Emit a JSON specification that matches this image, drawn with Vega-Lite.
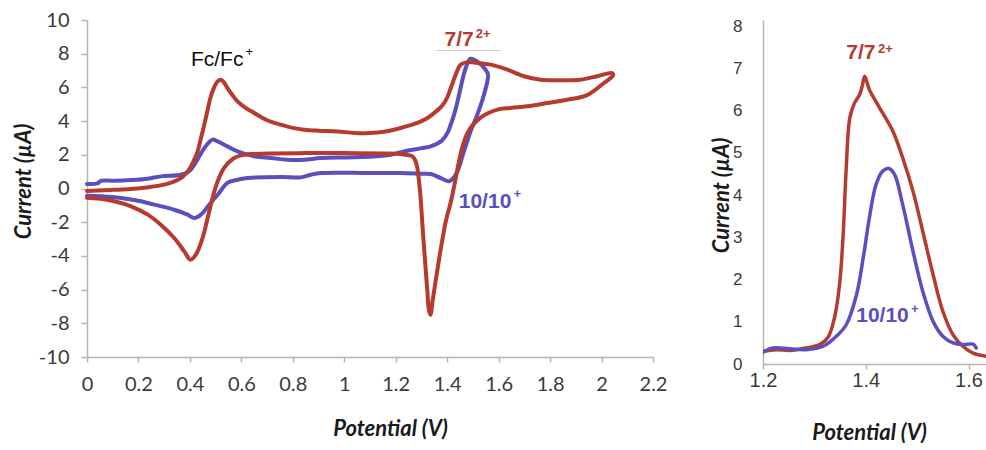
{
  "$schema": "https://vega.github.io/schema/vega-lite/v6.json",
  "padding": {"left": 12, "top": 10, "right": 0, "bottom": 0},
  "background": "white",
  "config": {
    "view": {"stroke": null},
    "axis": {
      "grid": false,
      "labelFlush": false,
      "domainColor": "#b4b4b4",
      "domainWidth": 1.5,
      "tickColor": "#b4b4b4",
      "tickWidth": 1.5,
      "labelColor": "#3a3a3a",
      "titleColor": "#1a1a1a",
      "labelFont": "Lato",
      "titleFont": "Lato",
      "titleFontStyle": "italic",
      "titleFontWeight": "bold",
      "titleFontSize": 22,
      "labelFontSize": 20
    }
  },
  "datasets": {
    "cv": [
      {"s": "7", "i": 0, "E": 0.0, "I": -0.15},
      {"s": "7", "i": 1, "E": 0.04, "I": -0.12},
      {"s": "7", "i": 2, "E": 0.10, "I": -0.08},
      {"s": "7", "i": 3, "E": 0.17, "I": -0.03},
      {"s": "7", "i": 4, "E": 0.24, "I": 0.08},
      {"s": "7", "i": 5, "E": 0.30, "I": 0.23},
      {"s": "7", "i": 6, "E": 0.34, "I": 0.42},
      {"s": "7", "i": 7, "E": 0.365, "I": 0.62},
      {"s": "7", "i": 8, "E": 0.385, "I": 0.9},
      {"s": "7", "i": 9, "E": 0.40, "I": 1.2},
      {"s": "7", "i": 10, "E": 0.415, "I": 1.65},
      {"s": "7", "i": 11, "E": 0.43, "I": 2.2},
      {"s": "7", "i": 12, "E": 0.443, "I": 3.0},
      {"s": "7", "i": 13, "E": 0.456, "I": 3.8},
      {"s": "7", "i": 14, "E": 0.468, "I": 4.6},
      {"s": "7", "i": 15, "E": 0.48, "I": 5.4},
      {"s": "7", "i": 16, "E": 0.494, "I": 6.0},
      {"s": "7", "i": 17, "E": 0.508, "I": 6.36},
      {"s": "7", "i": 18, "E": 0.52, "I": 6.46},
      {"s": "7", "i": 19, "E": 0.532, "I": 6.3},
      {"s": "7", "i": 20, "E": 0.546, "I": 5.96},
      {"s": "7", "i": 21, "E": 0.565, "I": 5.55},
      {"s": "7", "i": 22, "E": 0.585, "I": 5.17},
      {"s": "7", "i": 23, "E": 0.615, "I": 4.8},
      {"s": "7", "i": 24, "E": 0.65, "I": 4.48},
      {"s": "7", "i": 25, "E": 0.70, "I": 4.05},
      {"s": "7", "i": 26, "E": 0.753, "I": 3.79},
      {"s": "7", "i": 27, "E": 0.80, "I": 3.6},
      {"s": "7", "i": 28, "E": 0.844, "I": 3.49},
      {"s": "7", "i": 29, "E": 0.90, "I": 3.43},
      {"s": "7", "i": 30, "E": 0.973, "I": 3.39},
      {"s": "7", "i": 31, "E": 1.04, "I": 3.3},
      {"s": "7", "i": 32, "E": 1.10, "I": 3.29},
      {"s": "7", "i": 33, "E": 1.16, "I": 3.38},
      {"s": "7", "i": 34, "E": 1.219, "I": 3.59},
      {"s": "7", "i": 35, "E": 1.284, "I": 3.89},
      {"s": "7", "i": 36, "E": 1.32, "I": 4.15},
      {"s": "7", "i": 37, "E": 1.349, "I": 4.48},
      {"s": "7", "i": 38, "E": 1.37, "I": 4.75},
      {"s": "7", "i": 39, "E": 1.388, "I": 5.07},
      {"s": "7", "i": 40, "E": 1.40, "I": 5.4},
      {"s": "7", "i": 41, "E": 1.414, "I": 5.96},
      {"s": "7", "i": 42, "E": 1.433, "I": 6.75},
      {"s": "7", "i": 43, "E": 1.452, "I": 7.35},
      {"s": "7", "i": 44, "E": 1.478, "I": 7.5},
      {"s": "7", "i": 45, "E": 1.517, "I": 7.45},
      {"s": "7", "i": 46, "E": 1.569, "I": 7.35},
      {"s": "7", "i": 47, "E": 1.634, "I": 7.05},
      {"s": "7", "i": 48, "E": 1.698, "I": 6.66},
      {"s": "7", "i": 49, "E": 1.763, "I": 6.46},
      {"s": "7", "i": 50, "E": 1.841, "I": 6.42},
      {"s": "7", "i": 51, "E": 1.918, "I": 6.46},
      {"s": "7", "i": 52, "E": 1.983, "I": 6.66},
      {"s": "7", "i": 53, "E": 2.041, "I": 6.85},
      {"s": "7", "i": 54, "E": 2.045, "I": 6.72},
      {"s": "7", "i": 55, "E": 2.009, "I": 6.26},
      {"s": "7", "i": 56, "E": 1.944, "I": 5.54},
      {"s": "7", "i": 57, "E": 1.866, "I": 5.27},
      {"s": "7", "i": 58, "E": 1.789, "I": 5.07},
      {"s": "7", "i": 59, "E": 1.711, "I": 4.88},
      {"s": "7", "i": 60, "E": 1.647, "I": 4.78},
      {"s": "7", "i": 61, "E": 1.595, "I": 4.68},
      {"s": "7", "i": 62, "E": 1.556, "I": 4.45},
      {"s": "7", "i": 63, "E": 1.525, "I": 4.15},
      {"s": "7", "i": 64, "E": 1.498, "I": 3.75},
      {"s": "7", "i": 65, "E": 1.476, "I": 3.2},
      {"s": "7", "i": 66, "E": 1.458, "I": 2.4},
      {"s": "7", "i": 67, "E": 1.443, "I": 1.4},
      {"s": "7", "i": 68, "E": 1.428, "I": 0.2},
      {"s": "7", "i": 69, "E": 1.414, "I": -0.8},
      {"s": "7", "i": 70, "E": 1.394, "I": -2.0},
      {"s": "7", "i": 71, "E": 1.375, "I": -3.6},
      {"s": "7", "i": 72, "E": 1.355, "I": -5.5},
      {"s": "7", "i": 73, "E": 1.342, "I": -6.8},
      {"s": "7", "i": 74, "E": 1.336, "I": -7.49},
      {"s": "7", "i": 75, "E": 1.33, "I": -7.3},
      {"s": "7", "i": 76, "E": 1.323, "I": -6.1},
      {"s": "7", "i": 77, "E": 1.316, "I": -4.7},
      {"s": "7", "i": 78, "E": 1.31, "I": -3.5},
      {"s": "7", "i": 79, "E": 1.303, "I": -2.0},
      {"s": "7", "i": 80, "E": 1.297, "I": -0.6},
      {"s": "7", "i": 81, "E": 1.29, "I": 0.5},
      {"s": "7", "i": 82, "E": 1.284, "I": 1.22},
      {"s": "7", "i": 83, "E": 1.275, "I": 1.7},
      {"s": "7", "i": 84, "E": 1.265, "I": 1.91},
      {"s": "7", "i": 85, "E": 1.24, "I": 2.0},
      {"s": "7", "i": 86, "E": 1.219, "I": 2.05},
      {"s": "7", "i": 87, "E": 1.15, "I": 2.08},
      {"s": "7", "i": 88, "E": 1.0, "I": 2.1},
      {"s": "7", "i": 89, "E": 0.85, "I": 2.1},
      {"s": "7", "i": 90, "E": 0.72, "I": 2.08},
      {"s": "7", "i": 91, "E": 0.65, "I": 2.05},
      {"s": "7", "i": 92, "E": 0.611, "I": 2.0},
      {"s": "7", "i": 93, "E": 0.572, "I": 1.81},
      {"s": "7", "i": 94, "E": 0.533, "I": 1.22},
      {"s": "7", "i": 95, "E": 0.508, "I": 0.43},
      {"s": "7", "i": 96, "E": 0.488, "I": -0.56},
      {"s": "7", "i": 97, "E": 0.469, "I": -1.75},
      {"s": "7", "i": 98, "E": 0.449, "I": -2.94},
      {"s": "7", "i": 99, "E": 0.423, "I": -3.93},
      {"s": "7", "i": 100, "E": 0.402, "I": -4.23},
      {"s": "7", "i": 101, "E": 0.378, "I": -3.73},
      {"s": "7", "i": 102, "E": 0.339, "I": -2.94},
      {"s": "7", "i": 103, "E": 0.287, "I": -2.15},
      {"s": "7", "i": 104, "E": 0.236, "I": -1.55},
      {"s": "7", "i": 105, "E": 0.171, "I": -1.06},
      {"s": "7", "i": 106, "E": 0.106, "I": -0.76},
      {"s": "7", "i": 107, "E": 0.042, "I": -0.6},
      {"s": "7", "i": 108, "E": 0.0, "I": -0.55},
      {"s": "10", "i": 0, "E": 0.0, "I": 0.27},
      {"s": "10", "i": 1, "E": 0.04, "I": 0.3},
      {"s": "10", "i": 2, "E": 0.055, "I": 0.46},
      {"s": "10", "i": 3, "E": 0.106, "I": 0.46},
      {"s": "10", "i": 4, "E": 0.17, "I": 0.5},
      {"s": "10", "i": 5, "E": 0.236, "I": 0.58},
      {"s": "10", "i": 6, "E": 0.287, "I": 0.72},
      {"s": "10", "i": 7, "E": 0.365, "I": 0.82},
      {"s": "10", "i": 8, "E": 0.395, "I": 1.0},
      {"s": "10", "i": 9, "E": 0.417, "I": 1.41},
      {"s": "10", "i": 10, "E": 0.436, "I": 1.9},
      {"s": "10", "i": 11, "E": 0.456, "I": 2.4},
      {"s": "10", "i": 12, "E": 0.475, "I": 2.75},
      {"s": "10", "i": 13, "E": 0.488, "I": 2.9},
      {"s": "10", "i": 14, "E": 0.508, "I": 2.8},
      {"s": "10", "i": 15, "E": 0.546, "I": 2.5},
      {"s": "10", "i": 16, "E": 0.585, "I": 2.2},
      {"s": "10", "i": 17, "E": 0.65, "I": 1.91},
      {"s": "10", "i": 18, "E": 0.715, "I": 1.81},
      {"s": "10", "i": 19, "E": 0.779, "I": 1.71},
      {"s": "10", "i": 20, "E": 0.844, "I": 1.71},
      {"s": "10", "i": 21, "E": 0.909, "I": 1.81},
      {"s": "10", "i": 22, "E": 1.038, "I": 1.85},
      {"s": "10", "i": 23, "E": 1.168, "I": 1.97},
      {"s": "10", "i": 24, "E": 1.232, "I": 2.2},
      {"s": "10", "i": 25, "E": 1.297, "I": 2.38},
      {"s": "10", "i": 26, "E": 1.336, "I": 2.5},
      {"s": "10", "i": 27, "E": 1.36, "I": 2.65},
      {"s": "10", "i": 28, "E": 1.38, "I": 2.85},
      {"s": "10", "i": 29, "E": 1.401, "I": 3.3},
      {"s": "10", "i": 30, "E": 1.414, "I": 3.8},
      {"s": "10", "i": 31, "E": 1.427, "I": 4.4},
      {"s": "10", "i": 32, "E": 1.44, "I": 5.15},
      {"s": "10", "i": 33, "E": 1.452, "I": 5.96},
      {"s": "10", "i": 34, "E": 1.472, "I": 7.15},
      {"s": "10", "i": 35, "E": 1.491, "I": 7.7},
      {"s": "10", "i": 36, "E": 1.524, "I": 7.45},
      {"s": "10", "i": 37, "E": 1.549, "I": 7.05},
      {"s": "10", "i": 38, "E": 1.559, "I": 6.75},
      {"s": "10", "i": 39, "E": 1.543, "I": 5.57},
      {"s": "10", "i": 40, "E": 1.517, "I": 4.38},
      {"s": "10", "i": 41, "E": 1.491, "I": 3.39},
      {"s": "10", "i": 42, "E": 1.465, "I": 2.2},
      {"s": "10", "i": 43, "E": 1.44, "I": 1.02},
      {"s": "10", "i": 44, "E": 1.42, "I": 0.55},
      {"s": "10", "i": 45, "E": 1.407, "I": 0.43},
      {"s": "10", "i": 46, "E": 1.375, "I": 0.62},
      {"s": "10", "i": 47, "E": 1.336, "I": 0.86},
      {"s": "10", "i": 48, "E": 1.297, "I": 0.88},
      {"s": "10", "i": 49, "E": 1.219, "I": 0.92},
      {"s": "10", "i": 50, "E": 1.10, "I": 0.92},
      {"s": "10", "i": 51, "E": 0.909, "I": 0.92},
      {"s": "10", "i": 52, "E": 0.87, "I": 0.82},
      {"s": "10", "i": 53, "E": 0.831, "I": 0.66},
      {"s": "10", "i": 54, "E": 0.753, "I": 0.68},
      {"s": "10", "i": 55, "E": 0.624, "I": 0.62},
      {"s": "10", "i": 56, "E": 0.585, "I": 0.52},
      {"s": "10", "i": 57, "E": 0.546, "I": 0.33},
      {"s": "10", "i": 58, "E": 0.508, "I": -0.37},
      {"s": "10", "i": 59, "E": 0.475, "I": -0.96},
      {"s": "10", "i": 60, "E": 0.443, "I": -1.55},
      {"s": "10", "i": 61, "E": 0.417, "I": -1.75},
      {"s": "10", "i": 62, "E": 0.391, "I": -1.55},
      {"s": "10", "i": 63, "E": 0.339, "I": -1.26},
      {"s": "10", "i": 64, "E": 0.262, "I": -0.96},
      {"s": "10", "i": 65, "E": 0.21, "I": -0.76},
      {"s": "10", "i": 66, "E": 0.132, "I": -0.56},
      {"s": "10", "i": 67, "E": 0.054, "I": -0.46},
      {"s": "10", "i": 68, "E": 0.0, "I": -0.43}
    ],
    "dpv": [
      {"s": "7", "i": 0, "E": 1.2, "I": 0.3},
      {"s": "7", "i": 1, "E": 1.226, "I": 0.34},
      {"s": "7", "i": 2, "E": 1.252, "I": 0.32},
      {"s": "7", "i": 3, "E": 1.284, "I": 0.38},
      {"s": "7", "i": 4, "E": 1.31, "I": 0.46},
      {"s": "7", "i": 5, "E": 1.326, "I": 0.62},
      {"s": "7", "i": 6, "E": 1.339, "I": 1.09},
      {"s": "7", "i": 7, "E": 1.349, "I": 1.88},
      {"s": "7", "i": 8, "E": 1.356, "I": 3.06},
      {"s": "7", "i": 9, "E": 1.362, "I": 4.64},
      {"s": "7", "i": 10, "E": 1.369, "I": 5.83},
      {"s": "7", "i": 11, "E": 1.378, "I": 6.18},
      {"s": "7", "i": 12, "E": 1.388, "I": 6.38},
      {"s": "7", "i": 13, "E": 1.393, "I": 6.58},
      {"s": "7", "i": 14, "E": 1.398, "I": 6.82},
      {"s": "7", "i": 15, "E": 1.407, "I": 6.5},
      {"s": "7", "i": 16, "E": 1.427, "I": 6.07},
      {"s": "7", "i": 17, "E": 1.453, "I": 5.51},
      {"s": "7", "i": 18, "E": 1.472, "I": 4.88},
      {"s": "7", "i": 19, "E": 1.492, "I": 4.09},
      {"s": "7", "i": 20, "E": 1.511, "I": 3.14},
      {"s": "7", "i": 21, "E": 1.531, "I": 2.12},
      {"s": "7", "i": 22, "E": 1.55, "I": 1.25},
      {"s": "7", "i": 23, "E": 1.57, "I": 0.69},
      {"s": "7", "i": 24, "E": 1.589, "I": 0.42},
      {"s": "7", "i": 25, "E": 1.609, "I": 0.26},
      {"s": "7", "i": 26, "E": 1.64, "I": 0.17},
      {"s": "10", "i": 0, "E": 1.2, "I": 0.28},
      {"s": "10", "i": 1, "E": 1.219, "I": 0.38},
      {"s": "10", "i": 2, "E": 1.252, "I": 0.36},
      {"s": "10", "i": 3, "E": 1.284, "I": 0.34},
      {"s": "10", "i": 4, "E": 1.317, "I": 0.42},
      {"s": "10", "i": 5, "E": 1.343, "I": 0.66},
      {"s": "10", "i": 6, "E": 1.362, "I": 0.93},
      {"s": "10", "i": 7, "E": 1.382, "I": 1.64},
      {"s": "10", "i": 8, "E": 1.395, "I": 2.51},
      {"s": "10", "i": 9, "E": 1.407, "I": 3.46},
      {"s": "10", "i": 10, "E": 1.42, "I": 4.25},
      {"s": "10", "i": 11, "E": 1.433, "I": 4.57},
      {"s": "10", "i": 12, "E": 1.445, "I": 4.63},
      {"s": "10", "i": 13, "E": 1.456, "I": 4.49},
      {"s": "10", "i": 14, "E": 1.472, "I": 3.77},
      {"s": "10", "i": 15, "E": 1.492, "I": 2.67},
      {"s": "10", "i": 16, "E": 1.511, "I": 1.72},
      {"s": "10", "i": 17, "E": 1.531, "I": 1.01},
      {"s": "10", "i": 18, "E": 1.55, "I": 0.66},
      {"s": "10", "i": 19, "E": 1.57, "I": 0.5},
      {"s": "10", "i": 20, "E": 1.589, "I": 0.46},
      {"s": "10", "i": 21, "E": 1.609, "I": 0.47},
      {"s": "10", "i": 22, "E": 1.615, "I": 0.38}
    ],
    "leftLabels": [
      {"s": "7", "t": "7/7", "E": 1.39, "I": 8.81},
      {"s": "10", "t": "10/10", "E": 1.445, "I": -0.83}
    ],
    "leftSup": [
      {"s": "7", "t": "2+", "E": 1.511, "I": 9.17},
      {"s": "10", "t": "+", "E": 1.658, "I": -0.33}
    ],
    "fc": [{"t": "Fc/Fc", "E": 0.404, "I": 7.63}],
    "fcSup": [{"t": "+", "E": 0.616, "I": 8.1}],
    "underline": [{"E": 1.355, "E2": 1.608, "I": 8.18}],
    "rightLabels": [
      {"s": "7", "t": "7/7", "E": 1.362, "I": 7.36},
      {"s": "10", "t": "10/10", "E": 1.3815, "I": 1.126}
    ],
    "rightSup": [
      {"s": "7", "t": "2+", "E": 1.424, "I": 7.46},
      {"s": "10", "t": "+", "E": 1.488, "I": 1.3}
    ]
  },
  "spacing": 110,
  "bounds": "flush",
  "hconcat": [
    {
      "width": 566,
      "height": 337,
      "encoding": {
        "x": {
          "field": "E", "type": "quantitative",
          "scale": {"domain": [0, 2.2], "nice": false},
          "axis": {
            "values": [0, 0.2, 0.4, 0.6, 0.8, 1, 1.2, 1.4, 1.6, 1.8, 2, 2.2],
            "format": "~g", "tickSize": 5, "labelPadding": 12,
            "title": "Potential (V)", "titleX": 303, "titleY": 71, "titleBaseline": "middle"
          }
        },
        "y": {
          "field": "I", "type": "quantitative",
          "scale": {"domain": [-10, 10], "nice": false},
          "axis": {
            "values": [-10, -8, -6, -4, -2, 0, 2, 4, 6, 8, 10],
            "labelExpr": "datum.value < 0 ? '-' + format(-datum.value, 'd') : format(datum.value, 'd')",
            "tickSize": 6, "labelPadding": 12,
            "title": "Current (µA)", "titleX": -64, "titleY": 161, "titleBaseline": "middle"
          }
        }
      },
      "layer": [
        {
          "data": {"name": "cv"},
          "transform": [{"filter": "datum.s === '10'"}],
          "mark": {"type": "line", "color": "#5b4fc0", "strokeWidth": 4, "interpolate": "catmull-rom", "strokeJoin": "round", "strokeCap": "round"},
          "encoding": {"order": {"field": "i", "type": "quantitative"}}
        },
        {
          "data": {"name": "cv"},
          "transform": [{"filter": "datum.s === '7'"}],
          "mark": {"type": "line", "color": "#b63a2e", "strokeWidth": 4, "interpolate": "catmull-rom", "strokeJoin": "round", "strokeCap": "round"},
          "encoding": {"order": {"field": "i", "type": "quantitative"}}
        },
        {
          "data": {"name": "underline"},
          "mark": {"type": "rule", "color": "#c8c8c8", "strokeWidth": 1},
          "encoding": {"x2": {"field": "E2"}}
        },
        {
          "data": {"name": "leftLabels"},
          "mark": {"type": "text", "font": "Liberation Sans", "fontWeight": "bold", "fontSize": 21, "align": "left", "baseline": "middle"},
          "encoding": {
            "text": {"field": "t"},
            "color": {"field": "s", "type": "nominal", "scale": {"domain": ["7", "10"], "range": ["#b63a2e", "#5b4fc0"]}, "legend": null}
          }
        },
        {
          "data": {"name": "leftSup"},
          "mark": {"type": "text", "font": "Liberation Sans", "fontWeight": "bold", "fontSize": 13, "align": "left", "baseline": "middle"},
          "encoding": {
            "text": {"field": "t"},
            "color": {"field": "s", "type": "nominal", "scale": {"domain": ["7", "10"], "range": ["#b63a2e", "#5b4fc0"]}, "legend": null}
          }
        },
        {
          "data": {"name": "fc"},
          "mark": {"type": "text", "font": "Liberation Sans", "fontSize": 21, "align": "left", "baseline": "middle", "color": "#111111"},
          "encoding": {"text": {"field": "t"}}
        },
        {
          "data": {"name": "fcSup"},
          "mark": {"type": "text", "font": "Liberation Sans", "fontSize": 13, "align": "left", "baseline": "middle", "color": "#111111"},
          "encoding": {"text": {"field": "t"}}
        }
      ]
    },
    {
      "width": 224,
      "height": 344,
      "encoding": {
        "x": {
          "field": "E", "type": "quantitative",
          "scale": {"domain": [1.2, 1.636], "nice": false},
          "axis": {
            "values": [1.2, 1.4, 1.6], "format": ".1f",
            "labelFont": "Liberation Sans", "labelFontSize": 20,
            "tickSize": 5, "labelPadding": 1,
            "title": "Potential (V)", "titleX": 106, "titleY": 68, "titleBaseline": "middle"
          }
        },
        "y": {
          "field": "I", "type": "quantitative",
          "scale": {"domain": [0, 8.15], "nice": false},
          "axis": {
            "values": [0, 1, 2, 3, 4, 5, 6, 7, 8], "format": "d",
            "labelFont": "Liberation Sans", "labelFontSize": 17,
            "ticks": false, "labelPadding": 21,
            "title": "Current (µA)", "titleX": -42, "titleY": 175, "titleBaseline": "middle"
          }
        }
      },
      "layer": [
        {
          "data": {"name": "dpv"},
          "transform": [{"filter": "datum.s === '7'"}],
          "mark": {"type": "line", "color": "#b63a2e", "strokeWidth": 3.5, "interpolate": "catmull-rom", "strokeJoin": "round", "strokeCap": "round", "clip": true},
          "encoding": {"order": {"field": "i", "type": "quantitative"}}
        },
        {
          "data": {"name": "dpv"},
          "transform": [{"filter": "datum.s === '10'"}],
          "mark": {"type": "line", "color": "#5b4fc0", "strokeWidth": 3.5, "interpolate": "catmull-rom", "strokeJoin": "round", "strokeCap": "round", "clip": true},
          "encoding": {"order": {"field": "i", "type": "quantitative"}}
        },
        {
          "data": {"name": "rightLabels"},
          "mark": {"type": "text", "font": "Liberation Sans", "fontWeight": "bold", "fontSize": 21, "align": "left", "baseline": "middle"},
          "encoding": {
            "text": {"field": "t"},
            "color": {"field": "s", "type": "nominal", "scale": {"domain": ["7", "10"], "range": ["#b63a2e", "#5b4fc0"]}, "legend": null}
          }
        },
        {
          "data": {"name": "rightSup"},
          "mark": {"type": "text", "font": "Liberation Sans", "fontWeight": "bold", "fontSize": 13, "align": "left", "baseline": "middle"},
          "encoding": {
            "text": {"field": "t"},
            "color": {"field": "s", "type": "nominal", "scale": {"domain": ["7", "10"], "range": ["#b63a2e", "#5b4fc0"]}, "legend": null}
          }
        }
      ]
    }
  ]
}
